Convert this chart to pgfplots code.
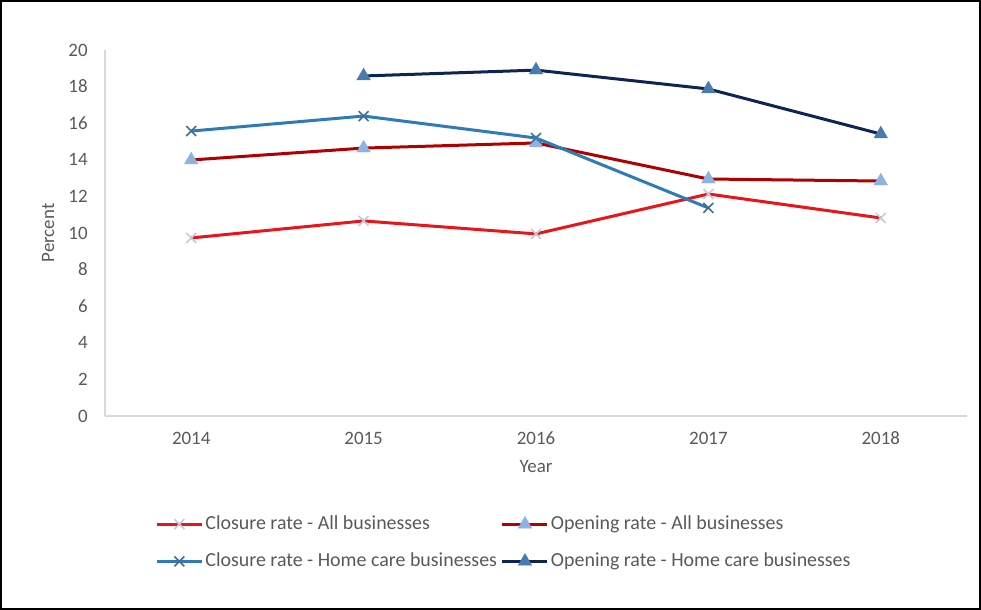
\documentclass[border=0pt]{standalone}
\usepackage{pgfplots}
\pgfplotsset{compat=1.18}
\usepackage{fontspec}
\setmainfont{Carlito}
\definecolor{redA}{HTML}{E8161B}
\definecolor{darkredA}{HTML}{B00000}
\definecolor{blueH}{HTML}{2E7BB8}
\definecolor{navyH}{HTML}{0D2455}
\definecolor{markX}{HTML}{C8C8D8}
\definecolor{markXH}{HTML}{3F6F93}
\definecolor{triL}{HTML}{8DB3E2}
\definecolor{triD}{HTML}{4A7AB0}
\definecolor{txt}{HTML}{595959}
\definecolor{axl}{HTML}{D9D9D9}
\begin{document}
\begin{tikzpicture}
\useasboundingbox (0,0) rectangle (490.5bp,305bp);
\draw[black, line width=0.8bp] (0.5bp,0.5bp) rectangle (490bp,304.5bp);
\begin{axis}[
  at={(52.5bp,97bp)}, anchor=south west,
  scale only axis, width=431bp, height=183bp,
  xmin=-0.5, xmax=4.5, ymin=0, ymax=20,
  xtick={0,1,2,3,4}, xticklabels={2014,2015,2016,2017,2018},
  ytick={0,2,...,20},
  axis x line=bottom, axis y line=left,
  axis line style={draw=axl, line width=0.8bp, -},
  major tick length=0pt,
  /pgf/number format/assume math mode=true,
  tick label style={font=\fontsize{9.5}{11}\selectfont, text=txt},
  xticklabel style={anchor=center, yshift=-11bp},
  yticklabel style={anchor=east, inner sep=0pt, xshift=-8.5bp},
  xlabel={Year}, ylabel={Percent},
  label style={font=\fontsize{9.5}{11}\selectfont, text=txt},
  xlabel style={at={(axis description cs:0.5,-0.139)}, anchor=center},
  ylabel style={at={(axis description cs:-0.066,0.5)}, anchor=center, rotate=0},
  legend columns=2,
  legend cell align=left,
  legend style={at={(axis description cs:0.058,-0.266)}, anchor=north west, draw=none, fill=none,
    inner sep=0pt, row sep=8.2bp,
    font=\fontsize{10}{12}\selectfont, text=txt,
    nodes={inner sep=1bp},
    /tikz/every odd column/.append style={column sep=0bp},
    /tikz/every even column/.append style={column sep=1bp}},
  legend image code/.code={\draw[mark repeat=2,mark phase=2] plot coordinates {(0bp,0bp)(11.25bp,0bp)(22.5bp,0bp)};},
  every axis plot/.append style={line width=1.5bp},
]
\addplot[redA, mark=x, mark size=3.5bp, mark options={draw=markX, line width=0.8bp}]
  coordinates {(0,9.73)(1,10.66)(2,9.95)(3,12.13)(4,10.82)};
\addlegendentry{Closure rate - All businesses}
\addplot[darkredA, mark=triangle*, mark size=4bp, mark options={draw=triL, fill=triL, line width=0.1bp}]
  coordinates {(0,13.99)(1,14.64)(2,14.92)(3,12.95)(4,12.84)};
\addlegendentry{Opening rate - All businesses}
\addplot[blueH, mark=x, mark size=3.5bp, mark options={draw=markXH, line width=0.8bp}]
  coordinates {(0,15.57)(1,16.39)(2,15.19)(3,11.37)};
\addlegendentry{Closure rate - Home care businesses}
\addplot[navyH, mark=triangle*, mark size=4bp, mark options={draw=triD, fill=triD, line width=0.1bp}]
  coordinates {(1,18.58)(2,18.90)(3,17.87)(4,15.41)};
\addlegendentry{Opening rate - Home care businesses}
\end{axis}
\end{tikzpicture}
\end{document}
